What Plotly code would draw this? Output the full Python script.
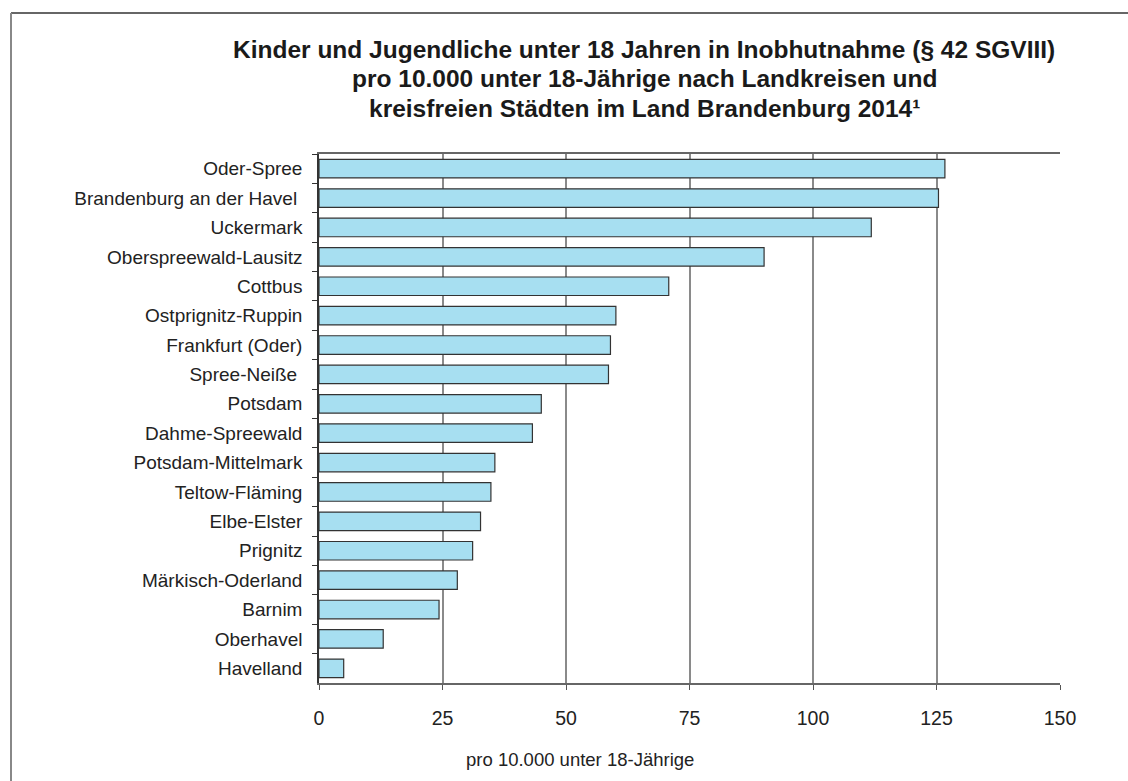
import plotly.graph_objects as go

categories = [
    "Oder-Spree", "Brandenburg an der Havel\u00a0", "Uckermark", "Oberspreewald-Lausitz",
    "Cottbus", "Ostprignitz-Ruppin", "Frankfurt (Oder)", "Spree-Neiße\u00a0", "Potsdam",
    "Dahme-Spreewald", "Potsdam-Mittelmark", "Teltow-Fläming", "Elbe-Elster",
    "Prignitz", "Märkisch-Oderland", "Barnim", "Oberhavel", "Havelland",
]
values = [126.7, 125.4, 111.8, 90.1, 70.8, 60.1, 59.0, 58.6, 45.0, 43.2,
          35.6, 34.8, 32.7, 31.1, 28.0, 24.3, 13.0, 5.0]
x_ticks = [0, 25, 50, 75, 100, 125, 150]

title_lines = [
    "Kinder und Jugendliche unter 18 Jahren in Inobhutnahme (§ 42 SGVIII)",
    "pro 10.000 unter 18-Jährige nach Landkreisen und",
    "kreisfreien Städten im Land Brandenburg 2014¹",
]
axis_title = "pro 10.000 unter 18-Jährige"

W, H = 1128, 781
L, R, T, B = 319, 1060, 154, 683

fig = go.Figure(go.Bar(
    x=values, y=categories, orientation="h",
    marker=dict(color="#a7dff1", line=dict(color="#333333", width=1.2)),
    width=0.63,
))

font = "Liberation Sans, Arial, sans-serif"


def px_to_paper_x(px):
    return (px - L) / (R - L)


def px_to_paper_y(py):
    return (B - py) / (B - T)


annotations = []
for line, yc in zip(title_lines, [49, 79, 108]):
    annotations.append(dict(
        text="<b>" + line + "</b>", x=px_to_paper_x(644), y=px_to_paper_y(yc),
        xref="paper", yref="paper", xanchor="center", yanchor="middle",
        showarrow=False, font=dict(family=font, size=24.5, color="#1a1a1a"),
    ))
annotations.append(dict(
    text=axis_title, x=px_to_paper_x(580), y=px_to_paper_y(759),
    xref="paper", yref="paper", xanchor="center", yanchor="middle",
    showarrow=False, font=dict(family=font, size=18.5, color="#222222"),
))

fig.update_layout(
    width=W, height=H,
    margin=dict(l=L, r=W - R, t=T, b=H - B),
    paper_bgcolor="white", plot_bgcolor="white",
    showlegend=False,
    annotations=annotations,
    shapes=[
        dict(type="line", xref="paper", yref="paper",
             x0=px_to_paper_x(11), x1=px_to_paper_x(1140),
             y0=px_to_paper_y(13), y1=px_to_paper_y(13),
             line=dict(color="#333333", width=1.5)),
        dict(type="line", xref="paper", yref="paper",
             x0=px_to_paper_x(11), x1=px_to_paper_x(11),
             y0=px_to_paper_y(13), y1=px_to_paper_y(800),
             line=dict(color="#888888", width=2)),
    ],
    xaxis=dict(
        range=[0, 150], tickvals=x_ticks, ticktext=[str(v) for v in x_ticks],
        showgrid=True, gridcolor="#8a8a8a", gridwidth=1.5,
        showline=True, linecolor="#666666", linewidth=1.5, mirror=True,
        ticks="outside", ticklen=5, tickcolor="#555555",
        tickfont=dict(family=font, size=19.5, color="#222222"),
        ticklabelstandoff=12,
        zeroline=False, fixedrange=True,
    ),
    yaxis=dict(
        categoryorder="array", categoryarray=categories, autorange="reversed",
        showgrid=False, showline=True, linecolor="#333333", linewidth=1.5,
        ticks="outside", ticklen=5, tickcolor="#333333", tickson="boundaries",
        tickfont=dict(family=font, size=19, color="#222222"),
        ticklabelstandoff=11, fixedrange=True,
    ),
)

fig.write_html(
    "out.html",
    config={"displayModeBar": False},
    post_script="document.body.style.margin='0';document.body.style.padding='0';",
)
